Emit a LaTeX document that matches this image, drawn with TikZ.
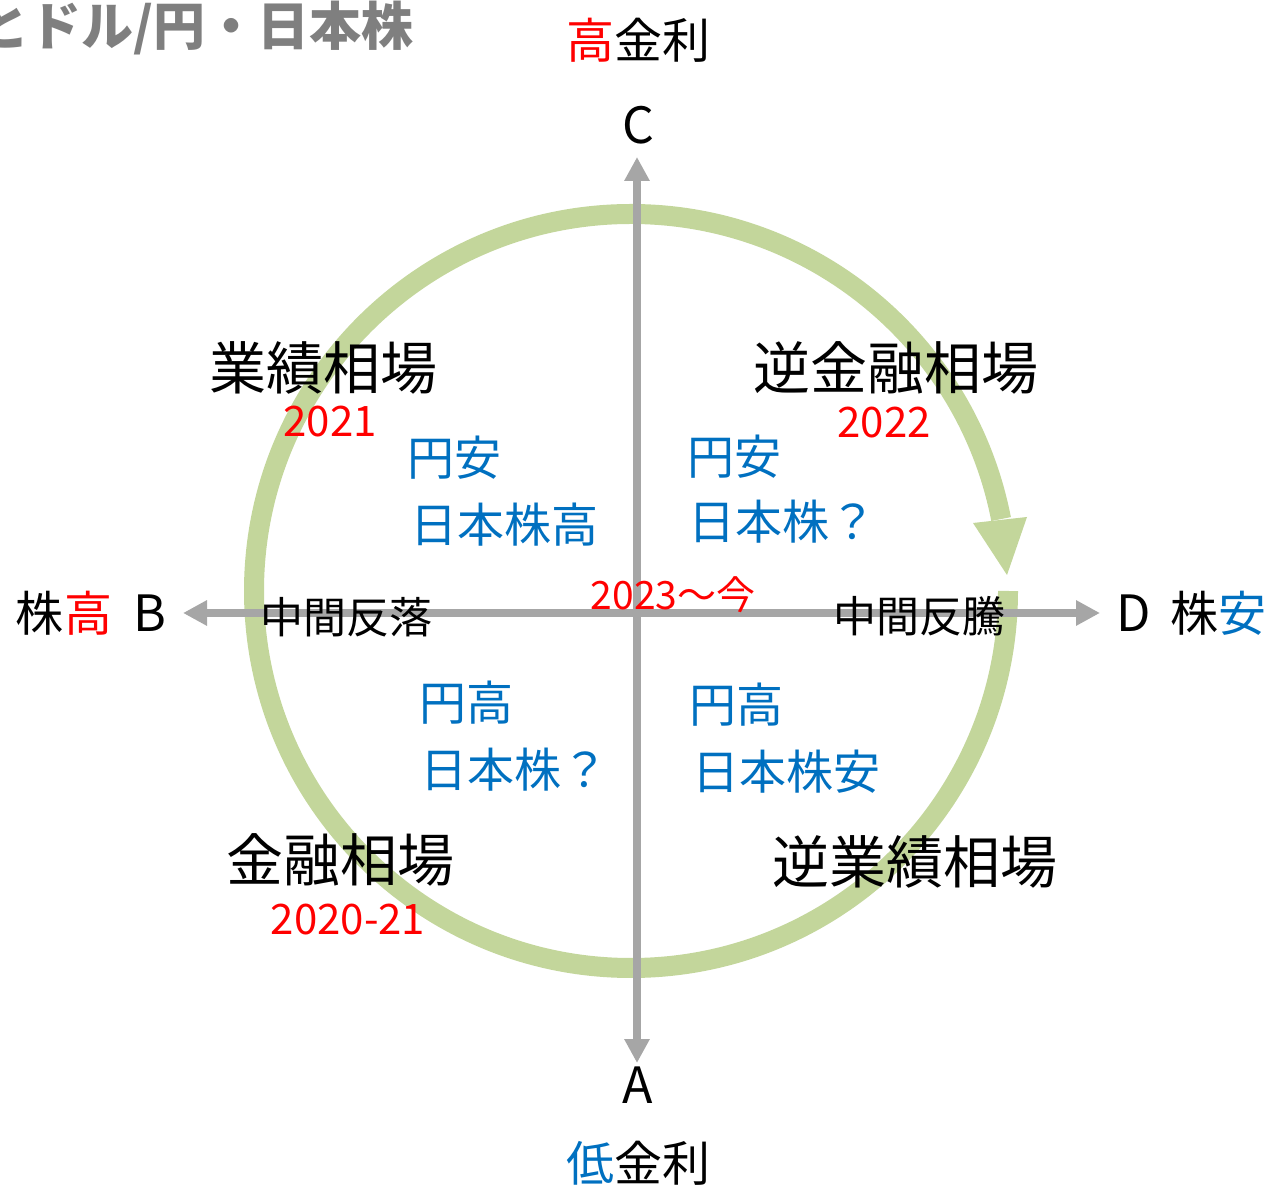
\documentclass[tikz,border=0pt]{standalone}
\usepackage{fontspec}
\setmainfont{Noto Sans CJK JP}
\usetikzlibrary{arrows.meta}
\definecolor{ringgreen}{HTML}{C3D69B}
\definecolor{axisgray}{HTML}{A6A6A6}
\definecolor{jpblue}{HTML}{0070C0}
\definecolor{titlegray}{HTML}{7F7F7F}
\newcommand{\myfs}[1]{\fontsize{#1}{#1}\selectfont}
\begin{document}
\begin{tikzpicture}[x=1pt,y=1pt,
  ringline/.style={draw=ringgreen,line width=20pt},
  axisline/.style={draw=axisgray,line width=8pt,{Triangle[width=24pt,length=24pt]}-{Triangle[width=24pt,length=24pt]}},
  lbl/.style={inner sep=0pt,outer sep=0pt},
  phase/.style={lbl,font=\myfs{57}},
  yearlbl/.style={lbl,text=red,font=\myfs{42}},
  fx/.style={lbl,text=jpblue,font=\myfs{47}},
  mid/.style={lbl,font=\myfs{43}},
  axlbl/.style={lbl,font=\myfs{48}},
  letterlbl/.style={lbl,font=\myfs{50}}]
\useasboundingbox (0,0) rectangle (1271,1189);
% ring
\coordinate (ctr) at (631,598);
\draw[ringline] (ctr) ++(0:377) arc (0:-349:377) coordinate (shaftend);
\coordinate (hl) at (973,666);
\coordinate (hr) at (1027,672);
\coordinate (ht) at (1007,614);
\fill[ringgreen] (hl) -- (hr) -- (ht) -- cycle;
% axes
\coordinate (axA) at (637,126);
\coordinate (axC) at (637,1032);
\coordinate (axB) at (183,576);
\coordinate (axD) at (1100,576);
\draw[axisline] (axA) -- (axC);
\draw[axisline] (axB) -- (axD);
% title
\node[lbl,anchor=east,text=titlegray,font=\myfs{52}\bfseries] (title) at (414,1161) {とドル/円・日本株};
% axis labels
\node[axlbl] (hirate) at (638,1149) {\textcolor{red}{高}金利};
\node[letterlbl] (lC) at (638,1064) {C};
\node[letterlbl] (lA) at (638,104) {A};
\node[axlbl] (lorate) at (638,26) {\textcolor{jpblue}{低}金利};
\node[axlbl,anchor=west] (lB) at (16,576) {株\textcolor{red}{高}\hspace{22pt}\myfs{50}B};
\node[axlbl,anchor=west] (lD) at (1116,576) {{\myfs{50}D}\hspace{20pt}株\textcolor{jpblue}{安}};
% middle
\node[mid] (hanraku) at (346,572) {中間反落};
\node[mid] (hanto) at (919,573) {中間反騰};
\node[lbl,text=red,font=\myfs{39}] (now) at (673,594) {2023〜今};
% phases
\node[phase] (gyoseki) at (323,821) {業績相場};
\node[yearlbl] (y2021) at (330,767) {2021};
\node[phase] (gyakukinyu) at (896,821) {逆金融相場};
\node[yearlbl] (y2022) at (884,766) {2022};
\node[phase] (kinyu) at (340,329) {金融相場};
\node[yearlbl] (y2020) at (348,269) {2020-21};
\node[phase] (gyakugyoseki) at (915,327) {逆業績相場};
% fx / stocks
\node[fx] (q1a) at (454,731) {円安};
\node[fx] (q1b) at (504,664) {日本株高};
\node[fx] (q2a) at (734,732) {円安};
\node[fx] (q2b) at (782,667) {日本株？};
\node[fx] (q3a) at (466,486) {円高};
\node[fx] (q3b) at (514,419) {日本株？};
\node[fx] (q4a) at (736,484) {円高};
\node[fx] (q4b) at (786,417) {日本株安};
\end{tikzpicture}
\end{document}
